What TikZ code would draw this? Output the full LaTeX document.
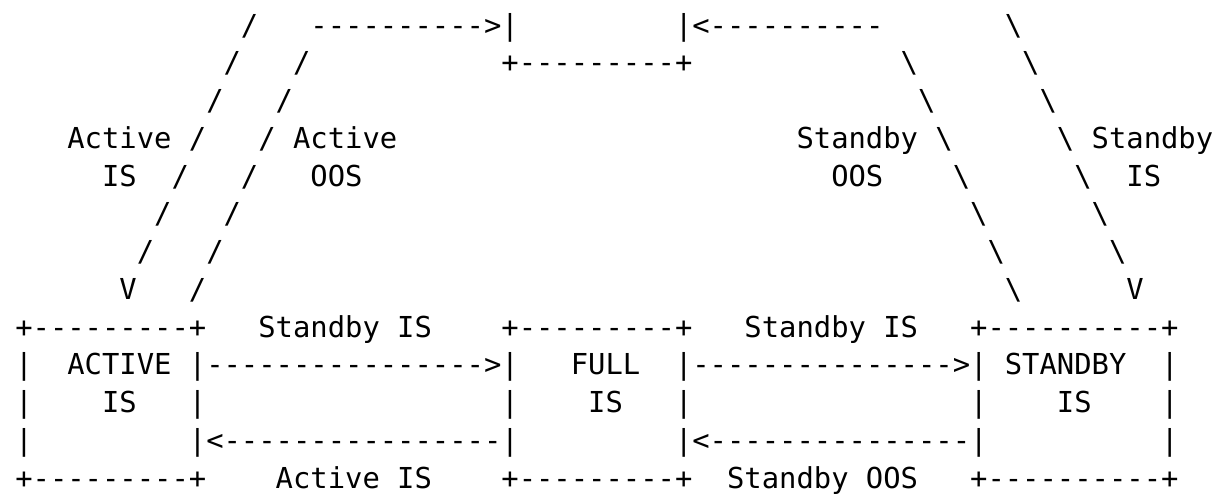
\documentclass[tikz,border=0pt]{standalone}
\usepackage{fontspec}
\setmonofont{DejaVu Sans Mono}

\begin{document}
\begin{tikzpicture}[x=8.68pt,y=-18.875pt,
    txt/.style={font=\ttfamily\fontsize{14.42pt}{17pt}\selectfont,
      anchor=base west,inner sep=0pt,outer sep=0pt}]
 \useasboundingbox (-0.88,0.07) rectangle (69.68,13.15);
 % slanted transitions, one character per row
 \foreach \r in {1,...,7} {
   \node[txt] (ais\r) at (14-\r,\r) {/};
   \node[txt] (sis\r) at (56+\r,\r) {\textbackslash};}
 \foreach \r in {2,...,8} {
   \node[txt] (aoos\r) at (18-\r,\r) {/};
   \node[txt] (soos\r) at (49+\r,\r) {\textbackslash};}
 \node[txt] (aisV) at (6,8) {V};
 \node[txt] (sisV) at (64,8) {V};
 % into FULL from above
 \node[txt] (aoosin) at (17,1) {---------->|};
 \node[txt] (soosin) at (38,1) {|<----------};
 \node[txt] (fullup) at (28,2) {+---------+};
 % labels on the slanted ones
 \node[txt] (aisA) at (3,4) {Active};  \node[txt] (aisB) at (5,5) {IS};
 \node[txt] (aoosA) at (16,4) {Active}; \node[txt] (aoosB) at (17,5) {OOS};
 \node[txt] (soosA) at (45,4) {Standby}; \node[txt] (soosB) at (47,5) {OOS};
 \node[txt] (sisA) at (62,4) {Standby}; \node[txt] (sisB) at (64,5) {IS};
 % the three states
 \node[txt] (act9) at (0,9) {+---------+};
 \node[txt] (full9) at (28,9) {+---------+};
 \node[txt] (stb9) at (55,9) {+----------+};
 \node[txt] (act13) at (0,13) {+---------+};
 \node[txt] (full13) at (28,13) {+---------+};
 \node[txt] (stb13) at (55,13) {+----------+};
 \foreach \r in {10,11,12} {
   \node[txt] (actL\r) at (0,\r) {|};
   \node[txt] (stbR\r) at (66,\r) {|};}
 \node[txt] (actN) at (3,10) {ACTIVE}; \node[txt] (actS) at (5,11) {IS};
 \node[txt] (fullN) at (32,10) {FULL}; \node[txt] (fullS) at (33,11) {IS};
 \node[txt] (stbN) at (57,10) {STANDBY}; \node[txt] (stbS) at (60,11) {IS};
 \node[txt] (actR11) at (10,11) {|};
 \node[txt] (fullL11) at (28,11) {|};
 \node[txt] (fullR11) at (38,11) {|};
 \node[txt] (stbL11) at (55,11) {|};
 % horizontal transitions
 \node[txt] (a2f) at (10,10) {|---------------->|};
 \node[txt] (f2s) at (38,10) {|--------------->|};
 \node[txt] (f2a) at (10,12) {|<----------------|};
 \node[txt] (s2f) at (38,12) {|<---------------|};
 \node[txt] (a2fT) at (14,9) {Standby IS};
 \node[txt] (f2sT) at (42,9) {Standby IS};
 \node[txt] (f2aT) at (15,13) {Active IS};
 \node[txt] (s2fT) at (41,13) {Standby OOS};
\end{tikzpicture}
\end{document}
